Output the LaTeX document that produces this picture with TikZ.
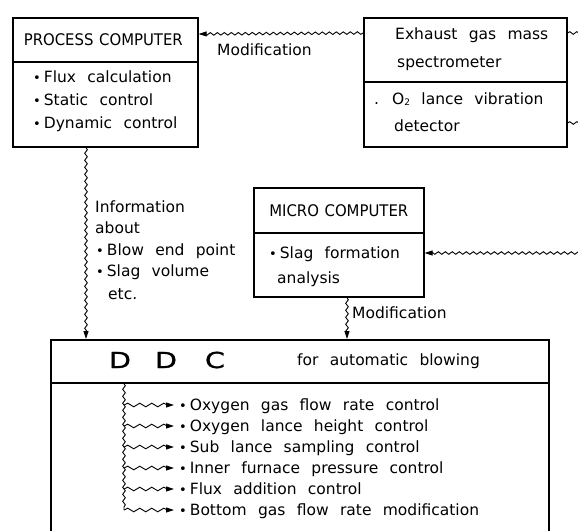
\documentclass[tikz,border=0pt]{standalone}
\usepackage{fontspec}
\setmainfont{DejaVu Sans}[WordSpace=2.3]
\newfontfamily\hdfont{DejaVu Sans}[FakeStretch=0.93,WordSpace=1.2]
\newfontfamily\bigfont{DejaVu Sans}[FakeStretch=1.3,FakeBold=1.2]
\usetikzlibrary{arrows.meta,decorations.pathmorphing}
\newcommand\bul{{\fontsize{13}{13}\selectfont •}\hspace{3pt}}
\begin{document}
\begin{tikzpicture}[x=1pt,y=-1pt,
  box/.style={draw,line width=1.6pt,inner sep=0pt,anchor=north west},
  txt/.style={inner sep=0pt,anchor=west,text height=11.3pt,text depth=0pt,font=\fontsize{15.5}{19}\selectfont},
  htxt/.style={inner sep=0pt,text height=11.6pt,text depth=0pt,font=\hdfont\fontsize{16}{19}\selectfont},
  bigtxt/.style={inner sep=0pt,font=\bigfont\fontsize{22}{25}\selectfont},
  wave/.style={line width=0.9pt,decorate,decoration={snake,amplitude=1.3pt,segment length=7pt,post length=3pt}},
  swave/.style={line width=0.9pt,decorate,decoration={snake,amplitude=1.8pt,segment length=12pt,post length=3pt}},
  tip/.style={-{Triangle[length=8pt,width=5pt]}}]
\clip (0,0) rectangle (578,530);
% boxes
\node[box,minimum width=185pt,minimum height=44pt] (pch) at (12,17) {};
\node[box,minimum width=185pt,minimum height=85pt] (pcb) at (12,61) {};
\node[box,minimum width=203pt,minimum height=64pt] (exh) at (363,17) {};
\node[box,minimum width=203pt,minimum height=65pt] (exb) at (363,81) {};
\node[box,minimum width=170pt,minimum height=45pt] (mch) at (253,187) {};
\node[box,minimum width=170pt,minimum height=64pt] (mcb) at (253,232) {};
\node[box,minimum width=498pt,minimum height=43pt] (ddch) at (50,339) {};
\node[box,minimum width=498pt,minimum height=170pt] (ddcb) at (50,382) {};
% texts
\node[htxt] (pct) at ([xshift=-2pt]pch.center) {PROCESS COMPUTER};
\node[txt] (p1) at (33,77) {\bul Flux calculation};
\node[txt] (p2) at (33,100) {\bul Static control};
\node[txt] (p3) at (33,123) {\bul Dynamic control};
\node[txt] (e1) at (395,34) {Exhaust gas mass};
\node[txt] (e2) at (397,62) {spectrometer};
\node[txt] (e3) at (374,99) {.};
\node[txt] (e4) at (392,99) {O\raisebox{-0.1ex}{\fontsize{9}{9}\selectfont 2} lance vibration};
\node[txt] (e5) at (394,126) {detector};
\node[htxt] (mct) at (mch.center) {MICRO COMPUTER};
\node[txt] (m1) at (269,253) {\bul Slag formation};
\node[txt] (m2) at (277,278) {analysis};
\node[txt] (i1) at (95,207) {Information};
\node[txt] (i2) at (95,228) {about};
\node[txt] (i3) at (96,250) {\bul Blow end point};
\node[txt] (i4) at (96,271) {\bul Slag volume};
\node[txt] (i5) at (108,294) {etc.};
\node[txt] (mod1) at (217,50) {Modification};
\node[txt] (mod2) at (352,313) {Modification};
\node[bigtxt] (d1) at (120,360) {D};
\node[bigtxt] (d2) at (166,360) {D};
\node[bigtxt] (d3) at (215,360) {C};
\node[txt] (fab) at (297,360) {for automatic blowing};
\node[txt] (k1) at (179,405) {\bul Oxygen gas flow rate control};
\node[txt] (k2) at (179,426) {\bul Oxygen lance height control};
\node[txt] (k3) at (179,447) {\bul Sub lance sampling control};
\node[txt] (k4) at (179,468) {\bul Inner furnace pressure control};
\node[txt] (k5) at (179,489) {\bul Flux addition control};
\node[txt] (k6) at (179,510) {\bul Bottom gas flow rate modification};
% connectors
\coordinate (r1) at (584,33);
\coordinate (r2) at (584,123);
\coordinate (r3) at (584,253);
\draw[wave,tip] ([yshift=-16pt]exh.north west) -- ([yshift=-17pt]pch.north east);
\draw[wave] ([yshift=-16pt]exh.north east) -- (r1);
\draw[wave] ([yshift=-42pt]exb.north east) -- (r2);
\draw[wave,tip] (r3) -- ([yshift=-21pt]mcb.north east);
\draw[wave,tip] ([xshift=74pt]pcb.south west) -- ([xshift=36pt]ddch.north west);
\draw[wave,tip] ([xshift=94pt]mcb.south west) -- ([xshift=297pt]ddch.north west);
\coordinate (b1) at (124,405);
\coordinate (b2) at (124,426);
\coordinate (b3) at (124,447);
\coordinate (b4) at (124,468);
\coordinate (b5) at (124,489);
\coordinate (b6) at (124,510);
\draw[wave] ([xshift=74pt]ddch.south west) -- (b6);
\foreach \i in {1,...,6} \draw[swave,tip] (b\i) -- ([xshift=-5pt]k\i.west);
\end{tikzpicture}
\end{document}
